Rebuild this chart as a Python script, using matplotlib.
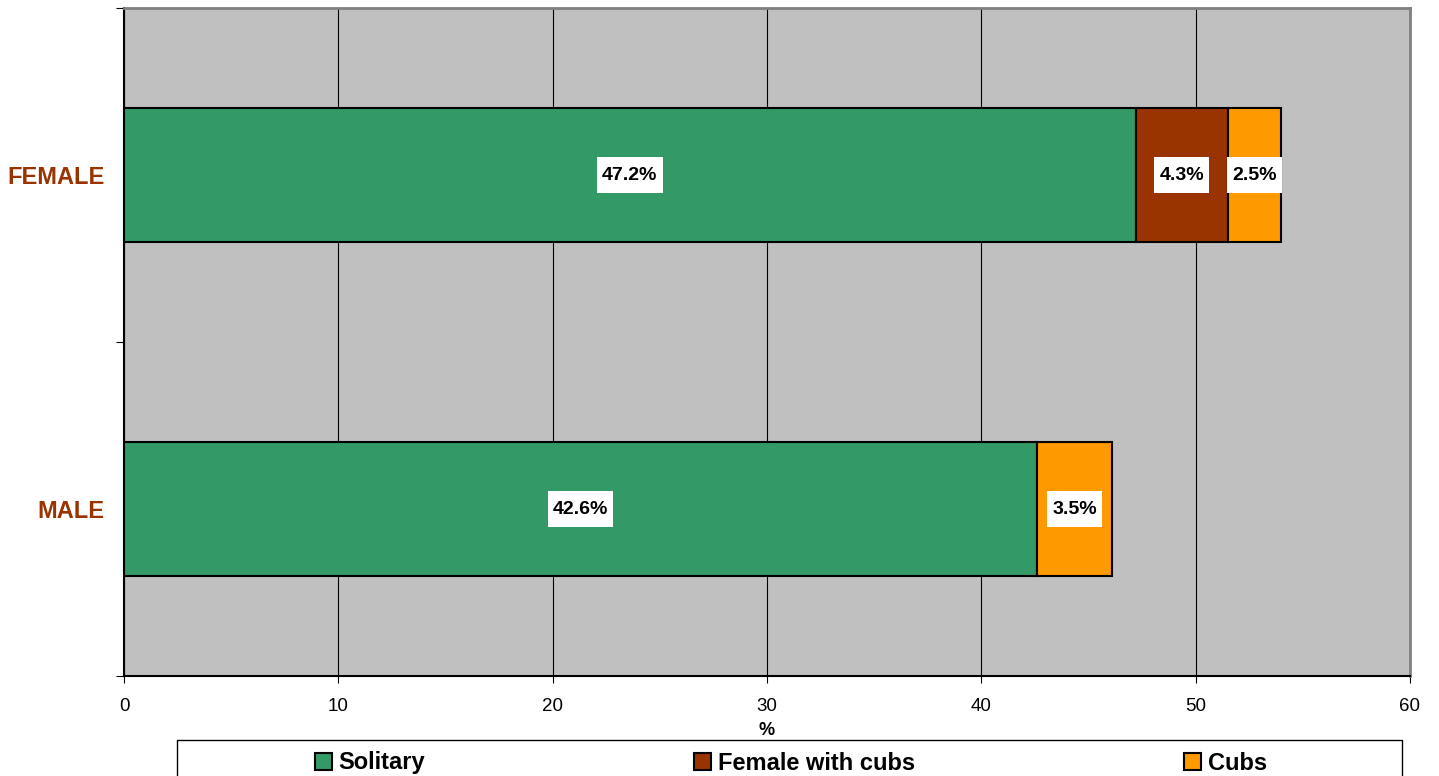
import matplotlib
matplotlib.use("Agg")
import matplotlib.pyplot as plt
import numpy as np
from matplotlib.patches import Patch, Rectangle
from matplotlib.path import Path

plt.rcParams['font.family'] = ['Liberation Sans', 'DejaVu Sans']

categories = ['MALE', 'FEMALE']
series = ['Solitary', 'Female with cubs', 'Cubs']
solitary = [42.6, 47.2]
female_cubs = [0.0, 4.3]
cubs = [3.5, 2.5]
colors = ['#339966', '#993300', '#FF9900']


def label_box(x0, y0, width, height, mutation_size):
    # white box, wider pad vertically than horizontally
    px = 0.26 * mutation_size
    py = 0.5 * mutation_size
    x0, y0 = x0 - px, y0 - py
    x1, y1 = x0 + width + 2*px, y0 + height + 2*py
    return Path([(x0, y0), (x1, y0), (x1, y1), (x0, y1), (x0, y0)], closed=True)


fig = plt.figure(figsize=(14.39, 7.76), dpi=100)
ax = fig.add_axes([124/1439, 1-676/776, (1410-124)/1439, (676-8)/776])
ax.set_facecolor('#C0C0C0')

y = np.arange(len(categories))
left = np.zeros(len(categories))
for vals, name, col in zip([solitary, female_cubs, cubs], series, colors):
    vals = np.array(vals)
    for i in range(len(y)):
        if vals[i] <= 0:
            continue
        ax.barh(y[i], vals[i], left=left[i], height=0.4, color=col,
                edgecolor='black', linewidth=1.5, zorder=3)
        ax.text(left[i] + vals[i]/2, y[i], '%.1f%%' % vals[i], ha='center', va='center',
                fontsize=14, fontweight='bold', zorder=4,
                bbox=dict(boxstyle=label_box, fc='white', ec='none'))
    left = left + vals

ax.set_xlim(0, 60)
ax.set_ylim(-0.5, 1.5)
ax.set_xticks(np.arange(0, 61, 10))
ax.tick_params(axis='x', labelsize=13.5, length=5, pad=11, direction='out')
ax.set_yticks([-0.5, 0.5, 1.5])
ax.set_yticklabels([])
ax.set_yticks(y, minor=True)
ax.set_yticklabels(categories, minor=True, fontsize=17, fontweight='bold', color='#993300')
ax.tick_params(axis='y', which='minor', length=0, pad=14)
ax.tick_params(axis='y', which='major', length=6, direction='out')
ax.xaxis.grid(True, color='black', linewidth=0.8, zorder=1)
ax.set_axisbelow(True)
ax.set_xlabel('%', fontsize=13, fontweight='bold', labelpad=5)

ax.spines['left'].set_color('black')
ax.spines['bottom'].set_color('black')
ax.spines['left'].set_linewidth(1.5)
ax.spines['bottom'].set_linewidth(1.5)
ax.spines['top'].set_color('#808080')
ax.spines['right'].set_color('#808080')
ax.spines['top'].set_linewidth(2)
ax.spines['right'].set_linewidth(2)

fig.patches.append(Rectangle((177/1439, -0.05), (1402-177)/1439, 0.05 + 1-740/776,
                             transform=fig.transFigure, fc='white', ec='black', lw=1))
handles = [Patch(facecolor=c, edgecolor='black', linewidth=1.5) for c in colors]
fig.legend(handles, series, loc='center', bbox_to_anchor=(791/1439, 1-763/776), ncol=3,
           frameon=False, prop={'size': 17, 'weight': 'bold'}, columnspacing=11.4,
           handlelength=0.7, handleheight=0.7, handletextpad=0.3)

plt.savefig('out.png')
plt.close()
